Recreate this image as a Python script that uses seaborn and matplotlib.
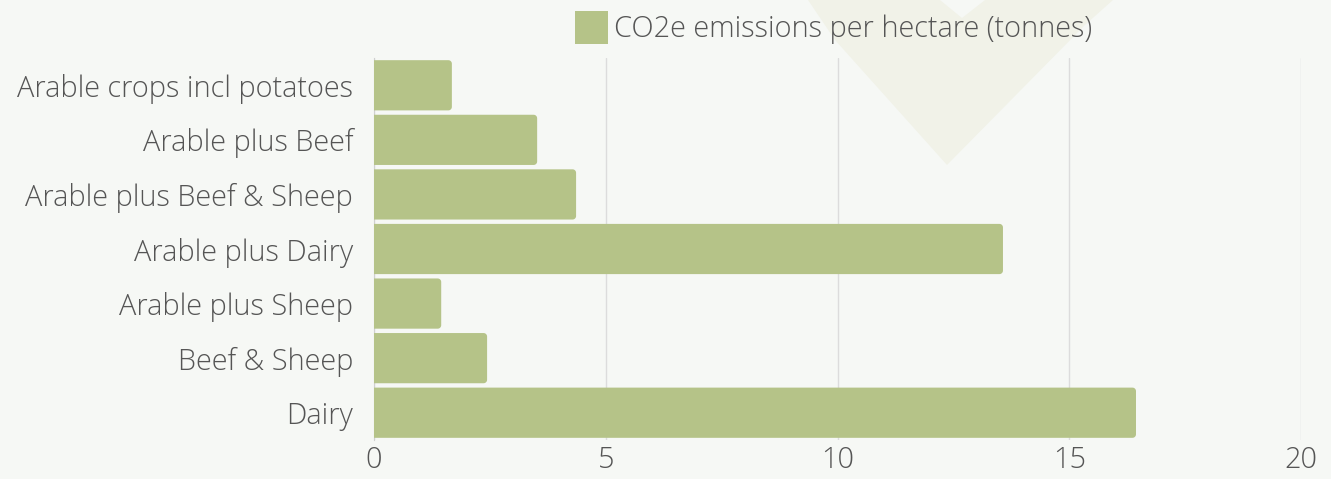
import matplotlib
matplotlib.use("Agg")
import matplotlib.pyplot as plt
from matplotlib.patches import Rectangle, Polygon
import matplotlib.transforms as mtransforms
import numpy as np
import seaborn as sns
import pandas as pd

categories = [
    "Arable crops incl potatoes",
    "Arable plus Beef",
    "Arable plus Beef & Sheep",
    "Arable plus Dairy",
    "Arable plus Sheep",
    "Beef & Sheep",
    "Dairy",
]
emissions = [1.68, 3.52, 4.36, 13.57, 1.45, 2.44, 16.44]
series_name = "CO2e emissions per hectare (tonnes)"
x_ticks = [0, 5, 10, 15, 20]

bg = "#f6f8f5"
bar_color = "#b5c388"
text_color = "#555555"
grid_color = "#dcdcdc"
emblem_color = "#f1f2e8"

sns.set_style("white")
plt.rcParams["font.family"] = ["Open Sans", "DejaVu Sans"]
plt.rcParams["font.weight"] = "light"

df = pd.DataFrame({"category": categories, "value": emissions})

fig = plt.figure(figsize=(13.31, 4.79), dpi=100, facecolor=bg)

# faint heart-shaped emblem in the background (pixel coordinates, origin top-left)
heart = Polygon(
    [(808, 0), (835, 40), (947, 165), (1085, 25), (1113, 0), (985, 0),
     (962, 18), (940, 0)],
    closed=True, facecolor=emblem_color, edgecolor="none", zorder=0,
)
heart.set_transform(mtransforms.Affine2D().scale(1, -1).translate(0, 479))
fig.patches.append(heart)

ax = fig.add_axes([374 / 1331, 1 - 440 / 479, (1301 - 374) / 1331, (440 - 58) / 479])
ax.patch.set_alpha(0)

sns.barplot(data=df, x="value", y="category", color=bar_color, width=0.92,
            saturation=1, ax=ax, zorder=3)

ax.set_xlim(0, 20)
ax.set_ylim(len(categories) - 0.5, -0.5)

# replace each bar with an outline whose right-hand corners are rounded
px_x = 20 / (1301 - 374)
px_y = len(categories) / (440 - 58)
r_px = 3.5
rx, ry = r_px * px_x, r_px * px_y
theta = np.linspace(0, np.pi / 2, 8)
for p in list(ax.patches):
    x0, y0 = p.get_x(), p.get_y()
    w, h = p.get_width(), p.get_height()
    x1, y1 = x0 + w, y0 + h
    p.set_visible(False)
    pts = [(x0, y0)]
    # corner at (x1, y0)
    pts += [(x1 - rx + rx * np.sin(t), y0 + ry - ry * np.cos(t)) for t in theta]
    # corner at (x1, y1)
    pts += [(x1 - rx + rx * np.cos(t), y1 - ry + ry * np.sin(t)) for t in theta]
    pts += [(x0, y1)]
    ax.add_patch(Polygon(pts, closed=True, facecolor=bar_color,
                         edgecolor="none", linewidth=0, zorder=3))

ax.set_xticks(x_ticks)
ax.set_xticklabels([str(t) for t in x_ticks])
ax.xaxis.grid(True, color=grid_color, linewidth=1, zorder=1)
ax.yaxis.grid(False)
for s in ["top", "right", "bottom"]:
    ax.spines[s].set_visible(False)
ax.spines["left"].set_color("#d0d0d0")
ax.spines["left"].set_zorder(2)
ax.tick_params(axis="both", length=0, labelsize=20.8, colors=text_color)
ax.tick_params(axis="y", pad=15)
ax.tick_params(axis="x", pad=4)
ax.set_xlabel("")
ax.set_ylabel("")

# legend above the plot
fig.patches.append(Rectangle((575 / 1331, 1 - 44 / 479), 33 / 1331, 33 / 479,
                             transform=fig.transFigure, facecolor=bar_color,
                             edgecolor="none"))
fig.text(614 / 1331, 1 - 29.5 / 479, series_name, fontsize=20.8,
         color=text_color, va="center", ha="left")

fig.savefig("out.png", dpi=100, facecolor=bg)
